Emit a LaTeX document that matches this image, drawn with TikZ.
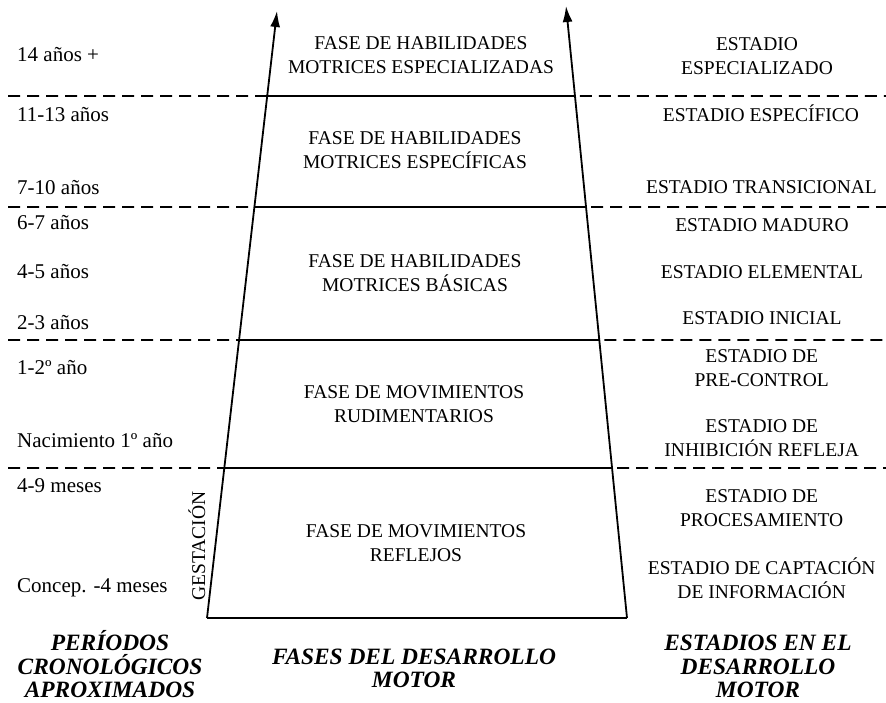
\documentclass[tikz,border=0pt]{standalone}
\usepackage{fontspec}
\setmainfont{Liberation Serif}
\usetikzlibrary{arrows.meta,calc}
\begin{document}
\begin{tikzpicture}[x=1pt,y=-1pt,
  ctxt/.style={font=\fontsize{19.5}{23.5}\selectfont, inner sep=0pt, align=center, anchor=base},
  ltxt/.style={font=\fontsize{21}{24}\selectfont, inner sep=0pt, anchor=base west},
  head/.style={font=\bfseries\itshape\fontsize{23.4}{23.5}\selectfont, inner sep=0pt, align=center, anchor=base},
  solidline/.style={line width=1.8pt},
  dline/.style={line width=1.6pt, dash pattern=on 12pt off 7pt},
  arr/.style={line width=1.8pt, -{Latex[length=16pt,width=10pt]}}
]
\useasboundingbox (0,0) rectangle (886,703);
% trapezoid corners
\coordinate (BL) at (207,618);
\coordinate (TL) at (277,11);
\coordinate (BR) at (627,618);
\coordinate (TR) at (566,6);
% crossings of the level lines
\coordinate (L5) at ($(BL)!{(618-96)/607}!(TL)$);
\coordinate (L4) at ($(BL)!{(618-207)/607}!(TL)$);
\coordinate (L3) at ($(BL)!{(618-340)/607}!(TL)$);
\coordinate (L2) at ($(BL)!{(618-468)/607}!(TL)$);
\coordinate (R5) at ($(BR)!{(618-96)/612}!(TR)$);
\coordinate (R4) at ($(BR)!{(618-207)/612}!(TR)$);
\coordinate (R3) at ($(BR)!{(618-340)/612}!(TR)$);
\coordinate (R2) at ($(BR)!{(618-468)/612}!(TR)$);
\coordinate (dl5) at (8,96);
\coordinate (dl4) at (8,207);
\coordinate (dl3) at (8,340);
\coordinate (dl2) at (8,468);
\coordinate (dr5) at (886,96);
\coordinate (dr4) at (886,207);
\coordinate (dr3) at (886,340);
\coordinate (dr2) at (886,468);
% main frame
\draw[arr] (BL) -- (TL);
\draw[arr] (BR) -- (TR);
\draw[solidline] (BL) -- (BR);
\foreach \i in {2,3,4,5}{
  \draw[solidline] (L\i) -- (R\i);
  \draw[dline] (dl\i) -- (L\i);
  \draw[dline] ([xshift=5pt]R\i) -- (dr\i);
}
% phases (anchor = baseline of last line)
\node[ctxt] (p5) at (421,73.4) {FASE DE HABILIDADES\\MOTRICES ESPECIALIZADAS};
\node[ctxt] (p4) at (415,168.4) {FASE DE HABILIDADES\\MOTRICES ESPECÍFICAS};
\node[ctxt] (p3) at (415,291) {FASE DE HABILIDADES\\MOTRICES BÁSICAS};
\node[ctxt] (p2) at (414,422.4) {FASE DE MOVIMIENTOS\\RUDIMENTARIOS};
\node[ctxt] (p1) at (416,561.4) {FASE DE MOVIMIENTOS\\REFLEJOS};
% stages
\node[ctxt] (r1) at (757,74.4) {ESTADIO\\ESPECIALIZADO};
\node[ctxt] (r2) at (761,121.4) {ESTADIO ESPECÍFICO};
\node[ctxt] (r3) at (761.5,193.4) {ESTADIO TRANSICIONAL};
\node[ctxt] (r4) at (762,231.4) {ESTADIO MADURO};
\node[ctxt] (r5) at (762,278.4) {ESTADIO ELEMENTAL};
\node[ctxt] (r6) at (762,324.4) {ESTADIO INICIAL};
\node[ctxt] (r7) at (761.7,386.4) {ESTADIO DE\\PRE-CONTROL};
\node[ctxt] (r8) at (761.7,456.4) {ESTADIO DE\\INHIBICIÓN REFLEJA};
\node[ctxt] (r9) at (761.7,526.4) {ESTADIO DE\\PROCESAMIENTO};
\node[ctxt] (r10) at (761.7,598.4) {ESTADIO DE CAPTACIÓN\\DE INFORMACIÓN};
% ages
\node[ltxt] (a1) at (17,62) {14 años +};
\node[ltxt] (a2) at (17,122) {11-13 años};
\node[ltxt] (a3) at (17,195) {7-10 años};
\node[ltxt] (a4) at (17,230) {6-7 años};
\node[ltxt] (a5) at (17,279) {4-5 años};
\node[ltxt] (a6) at (17,329) {2-3 años};
\node[ltxt] (a7) at (17,374) {1-2º año};
\node[ltxt] (a8) at (17,447) {Nacimiento 1º año};
\node[ltxt] (a9) at (17,492) {4-9 meses};
\node[ltxt] (a10) at (17,592) {Concep. -4 meses};
\node[font=\fontsize{19.5}{24}\selectfont, inner sep=0pt, anchor=base, rotate=90] (gest) at (205,546) {GESTACIÓN};
% headers
\node[head] (hdL) at (110,697.5) {PERÍODOS\\CRONOLÓGICOS\\APROXIMADOS};
\node[head] (hdC) at (414,687.5) {FASES DEL DESARROLLO\\MOTOR};
\node[head] (hdR) at (758,697.5) {ESTADIOS EN EL\\DESARROLLO\\MOTOR};
\end{tikzpicture}
\end{document}
